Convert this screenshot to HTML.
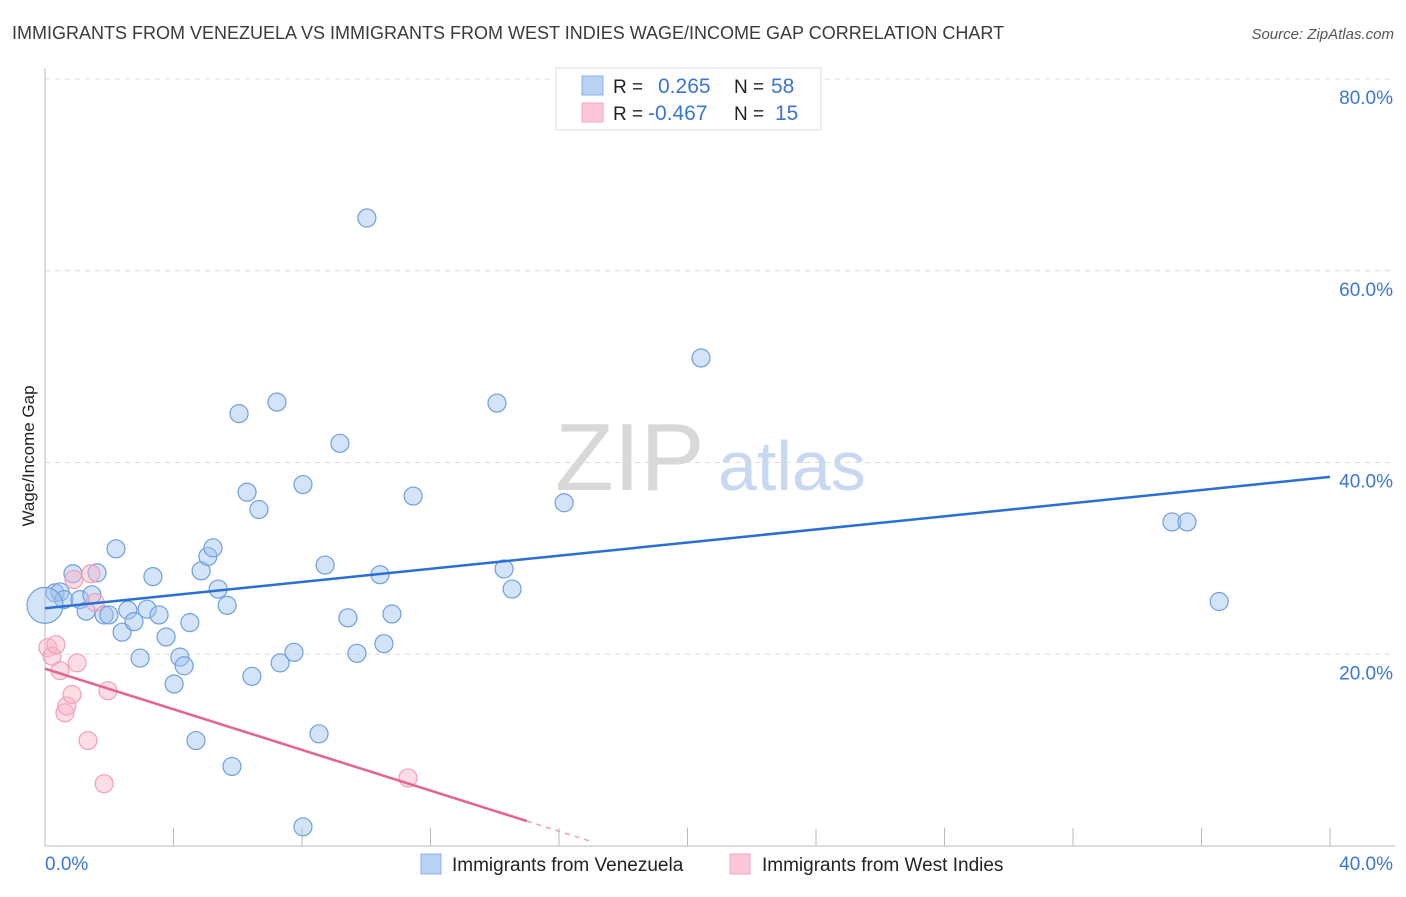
<!DOCTYPE html>
<html><head><meta charset="utf-8"><style>
body{margin:0;background:#fff;font-family:"Liberation Sans",sans-serif;}
svg text{font-family:"Liberation Sans",sans-serif;}
</style></head><body>
<svg id="chart" width="1406" height="892" viewBox="0 0 1406 892" xmlns="http://www.w3.org/2000/svg">
<text x="12" y="39" font-size="18" fill="#3a3a3a">IMMIGRANTS FROM VENEZUELA VS IMMIGRANTS FROM WEST INDIES WAGE/INCOME GAP CORRELATION CHART</text>
<text x="1394" y="39" font-size="15" fill="#555" text-anchor="end" font-style="italic">Source: ZipAtlas.com</text>
<g>
<text x="555" y="490" font-size="96" fill="#d8d8d8" font-family="Liberation Serif, serif">ZIP</text>
<text x="718" y="490" font-size="70" fill="#c8d8f0">atlas</text>
</g>
<g id="grid"></g>
<g id="axes"></g>
<text transform="translate(34,456) rotate(-90)" font-size="17" fill="#222" text-anchor="middle">Wage/Income Gap</text>
<g id="marks"></g>
<g>
<rect x="556" y="68" width="265" height="62" fill="#fff" stroke="#ddd"/>
<rect x="582" y="76" width="21" height="19" fill="#b8d2f4" stroke="#8ab2e8"/>
<text x="613" y="93" font-size="19" fill="#222">R =</text><text x="658" y="93" font-size="21" fill="#3a76d6">0.265</text>
<text x="734" y="93" font-size="19" fill="#222">N =</text><text x="771" y="93" font-size="21" fill="#3a76d6">58</text>
<rect x="582" y="103" width="21" height="19" fill="#fcc8d8" stroke="#f0a8c0"/>
<text x="613" y="120" font-size="19" fill="#222">R =</text><text x="648" y="120" font-size="21" fill="#3a76d6">-0.467</text>
<text x="734" y="120" font-size="19" fill="#222">N =</text><text x="775" y="120" font-size="21" fill="#3a76d6">15</text>
</g>
<g>
<rect x="421" y="854" width="20" height="20" fill="#b8d2f4" stroke="#8ab2e8"/>
<text x="452" y="871" font-size="19" fill="#222">Immigrants from Venezuela</text>
<rect x="730" y="854" width="20" height="20" fill="#fcc8d8" stroke="#f0a8c0"/>
<text x="762" y="871" font-size="19" fill="#222">Immigrants from West Indies</text>
</g>
</svg>
<script>
const xTicks=[0,40];
const yTicks=[20,40,60,80];
const blueX=[0.31,0.47,0.59,0.87,1.09,1.28,1.46,1.62,1.84,1.99,2.21,2.40,2.58,2.77,2.96,3.18,3.36,3.55,3.77,4.02,4.20,4.33,4.51,4.70,4.86,5.07,5.23,5.39,5.67,5.82,6.04,6.29,6.44,6.66,7.22,7.32,7.75,8.03,8.03,8.53,8.72,9.18,9.43,9.71,10.02,10.43,10.55,10.80,11.46,14.07,14.29,14.54,16.16,20.42,35.08,35.55,36.55,0];
const blueY=[26.4,26.5,25.7,28.4,25.7,24.5,26.2,28.5,24.1,24.1,31.0,22.3,24.6,23.4,19.6,24.7,28.1,24.1,21.8,16.9,19.7,18.8,23.3,11.0,28.7,30.2,31.1,26.8,25.1,8.3,45.1,36.9,17.7,35.1,46.3,19.1,20.2,37.7,2.0,11.7,29.3,42.0,23.8,20.1,65.5,28.3,21.1,24.2,36.5,46.2,28.9,26.8,35.8,50.9,33.8,33.8,25.5,25.1];
const pinkX=[0.09,0.22,0.34,0.47,0.62,0.68,0.84,0.90,1.00,1.34,1.43,1.56,1.84,1.96,11.30];
const pinkY=[20.7,19.8,21.0,18.3,13.9,14.6,15.8,27.8,19.1,11.0,28.4,25.4,6.5,16.2,7.1];
const blueTrend=[24.8,38.5];
const pinkTrend=[18.5,2.6];
const pinkSolidEnd=15;
const pinkDashEnd=17;
const X0=45,X1=1330,Y0=846,Y1=79;
const sx=v=>X0+(X1-X0)*v/40;
const sy=v=>Y0-(Y0-Y1)*v/80;
const NS='http://www.w3.org/2000/svg';
function mk(tag,attrs,parent){const e=document.createElementNS(NS,tag);for(const k in attrs)e.setAttribute(k,attrs[k]);parent.appendChild(e);return e;}
const grid=document.getElementById('grid'),axes=document.getElementById('axes'),marks=document.getElementById('marks');
yTicks.forEach(t=>{
 const l=mk('line',{x1:X0,x2:1395,y1:sy(t),y2:sy(t),stroke:'#dcdcdc','stroke-dasharray':'5,5'},grid);
 
 
 const tx=mk('text',{x:1393,y:sy(t)+25,'font-size':19,fill:'#3a76d6','text-anchor':'end'},axes);
 tx.textContent=t.toFixed(1)+'%';
 
 
});
const al=mk('line',{x1:X0,x2:X0,y1:68,y2:Y0,stroke:'#bbb'},axes);


const bl=mk('line',{x1:X0,x2:1395,y1:Y0,y2:Y0,stroke:'#bbb'},axes);


for(let i=0;i<=10;i++){const v=i*4;const t=mk('line',{x1:sx(v),x2:sx(v),y1:828,y2:Y0,stroke:'#bbb'},axes);
 
 }
xTicks.forEach((t,i)=>{const tx=mk('text',{x:i?1393:45,y:870,'font-size':19,fill:'#3a76d6','text-anchor':i?'end':'start'},axes);
 tx.textContent=t.toFixed(1)+'%';
 
 });
blueX.forEach((x,i)=>{const r=(i===blueX.length-1)?18:9;
 const c=mk('circle',{cx:sx(x),cy:sy(blueY[i]),r:r,fill:'rgba(160,196,240,0.45)',stroke:'#6f9fe0','stroke-width':1.2},marks);
 
 });
pinkX.forEach((x,i)=>{
 const c=mk('circle',{cx:sx(x),cy:sy(pinkY[i]),r:9,fill:'rgba(248,180,200,0.45)',stroke:'#f0a0b8','stroke-width':1.2},marks);
 
 });
const bt=mk('line',{x1:sx(0),y1:sy(blueTrend[0]),x2:sx(40),y2:sy(blueTrend[1]),stroke:'#2a6fd6','stroke-width':2.5},marks);


const pf=v=>pinkTrend[0]+(pinkTrend[1]-pinkTrend[0])*v/15;
const pt=mk('line',{x1:sx(0),y1:sy(pf(0)),x2:sx(pinkSolidEnd),y2:sy(pf(pinkSolidEnd)),stroke:'#e8628f','stroke-width':2.5},marks);


const pd=mk('line',{x1:sx(pinkSolidEnd),y1:sy(pf(pinkSolidEnd)),x2:sx(pinkDashEnd),y2:sy(pf(pinkDashEnd)),stroke:'#e8a0b8','stroke-width':1.5,'stroke-dasharray':'5,5'},marks);


</script>
</body></html>
